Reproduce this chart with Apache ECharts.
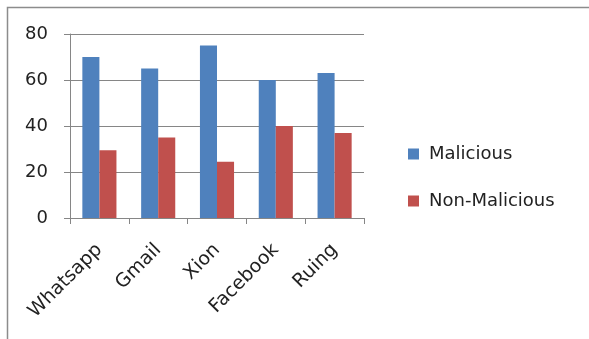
<!DOCTYPE html>
<html>
<head>
<meta charset="utf-8">
<script src="https://cdn.jsdelivr.net/npm/echarts@6/dist/echarts.min.js"></script>
<style>
  html, body { margin: 0; padding: 0; background: #fff; }
  #chart { width: 589px; height: 339px; }
</style>
</head>
<body>
<div id="chart"></div>
<script>
const apps = ['Whatsapp', 'Gmail', 'Xion', 'Facebook', 'Ruing'];
const malicious = [70, 65, 75, 60, 63];
const nonMalicious = [29.5, 35, 24.5, 40, 37];
const yTicks = [0, 20, 40, 60, 80];

const font = '"DejaVu Sans", sans-serif';
const chart = echarts.init(document.getElementById('chart'));

chart.setOption({
  animation: false,
  color: ['#4F81BD', '#C0504D'],
  grid: { left: 70, top: 34, width: 294, height: 184, containLabel: false },
  legend: {
    orient: 'vertical',
    left: 403,
    top: 140,
    itemWidth: 11,
    itemHeight: 11,
    itemGap: 29,
    icon: 'rect',
    textStyle: { fontFamily: font, fontSize: 18, color: '#222', padding: [0, 0, 0, 5] },
    data: ['Malicious', 'Non-Malicious']
  },
  xAxis: {
    type: 'category',
    data: apps,
    axisLine: { lineStyle: { color: '#868686' } },
    axisTick: { show: true, length: 6, lineStyle: { color: '#868686' } },
    axisLabel: {
      rotate: 45,
      interval: 0,
      fontFamily: font,
      fontSize: 19,
      color: '#222',
      margin: 29
    }
  },
  yAxis: {
    type: 'value',
    min: yTicks[0],
    max: yTicks[yTicks.length - 1],
    interval: 20,
    axisLine: { show: true, lineStyle: { color: '#868686' } },
    axisTick: { show: true, length: 6, lineStyle: { color: '#868686' } },
    splitLine: { lineStyle: { color: '#868686' } },
    axisLabel: { fontFamily: font, fontSize: 18, color: '#222', margin: 22 }
  },
  series: [
    {
      name: 'Malicious',
      type: 'bar',
      data: malicious,
      barGap: '0%',
      barCategoryGap: '42%'
    },
    {
      name: 'Non-Malicious',
      type: 'bar',
      data: nonMalicious
    }
  ],
  graphic: [
    {
      type: 'polyline',
      shape: { points: [[7.5, 339], [7.5, 7.5], [589, 7.5]] },
      style: { stroke: '#8c8c8c', lineWidth: 1.5, fill: null }
    }
  ]
});
</script>
</body>
</html>
